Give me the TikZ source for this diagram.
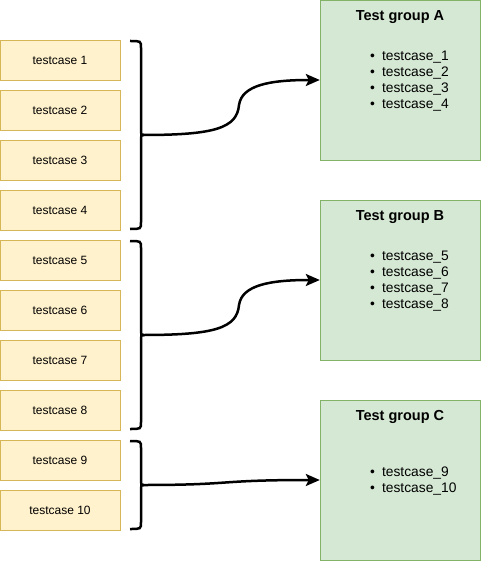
\documentclass[tikz,border=0pt]{standalone}
\usepackage{fontspec}
\setmainfont{Liberation Sans}
\usetikzlibrary{arrows.meta}
\definecolor{caseFill}{HTML}{FFF2CC}
\definecolor{caseLine}{HTML}{D6B656}
\definecolor{groupFill}{HTML}{D5E8D4}
\definecolor{groupLine}{HTML}{82B366}
\begin{document}
\begin{tikzpicture}[x=1pt,y=-1pt,
  casebox/.style={draw=caseLine,fill=caseFill,minimum width=120pt,minimum height=40pt,inner sep=0pt,font=\fontsize{12}{14}\selectfont},
  groupbox/.style={draw=groupLine,fill=groupFill,minimum width=160pt,minimum height=160pt,inner sep=0pt},
  grouptitle/.style={font=\fontsize{14.5}{16}\selectfont\bfseries},
  grouplist/.style={anchor=west,align=left,inner sep=0pt,font=\fontsize{13.8}{16}\selectfont},
  bracket/.style={line width=2.5pt},
  link/.style={line width=2.5pt,-{Stealth[length=14pt,width=12pt,inset=3pt]}}]
\useasboundingbox (0,0) rectangle (481,561);

% test cases
\foreach \i in {1,...,10}
  \node[casebox] (t\i) at (60,{10+50*\i}) {testcase \i};

% groups
\node[groupbox] (gA) at (400,80) {};
\node[groupbox] (gB) at (400,280) {};
\node[groupbox] (gC) at (400,480) {};

\node[grouptitle] (gAtitle) at (400,17) {Test group A};
\node[grouptitle] (gBtitle) at (400,217) {Test group B};
\node[grouptitle] (gCtitle) at (400,417) {Test group C};

\node[grouplist] (gAlist) at (370,81) {\textbullet\hspace{7pt}testcase\_1\\\textbullet\hspace{7pt}testcase\_2\\\textbullet\hspace{7pt}testcase\_3\\\textbullet\hspace{7pt}testcase\_4};
\node[grouplist] (gBlist) at (370,281) {\textbullet\hspace{7pt}testcase\_5\\\textbullet\hspace{7pt}testcase\_6\\\textbullet\hspace{7pt}testcase\_7\\\textbullet\hspace{7pt}testcase\_8};
\node[grouplist] (gClist) at (370,481) {\textbullet\hspace{7pt}testcase\_9\\\textbullet\hspace{7pt}testcase\_10};

% braces
\foreach \top/\mid/\bot in {41/135/229,241/335/429,441/485/529}
  \draw[bracket] (130,\top) .. controls (141,\top) .. (141,\top+7) -- (141,\mid-7)
    .. controls (141,\mid) .. (144,\mid) .. controls (141,\mid) .. (141,\mid+7)
    -- (141,\bot-7) .. controls (141,\bot) .. (130,\bot);
\coordinate (b1) at (143,135);
\coordinate (b2) at (143,335);
\coordinate (b3) at (143,485);

% arrows
\draw[link] (b1) .. controls (215,135) and (237,128) .. (239,105) .. controls (242,85) and (270,80) .. (gA.west);
\draw[link] (b2) .. controls (215,335) and (237,328) .. (239,305) .. controls (242,285) and (270,280) .. (gB.west);
\draw[link] (b3) .. controls (235,485) and (215,480) .. (gC.west);
\end{tikzpicture}
\end{document}
